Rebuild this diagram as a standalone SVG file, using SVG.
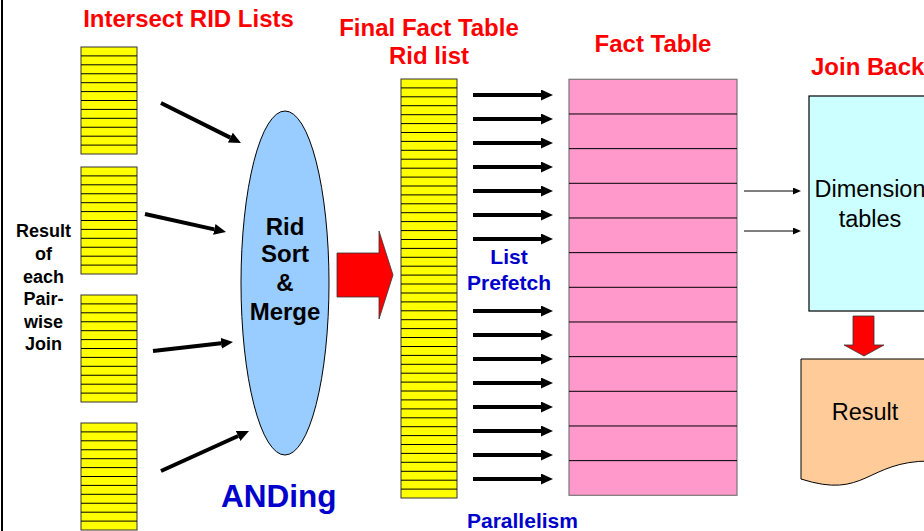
<svg xmlns="http://www.w3.org/2000/svg" xmlns:xlink="http://www.w3.org/1999/xlink" width="924" height="531" viewBox="0 0 924 531">
<style>
text{font-family:"Liberation Sans",Arial,sans-serif}
.title{font-size:24px;font-weight:bold;fill:#FF0000}
.blue{font-weight:bold;fill:#0000CC}
.lbl{font-size:18px;font-weight:bold;fill:#000}
.merge{font-size:24px;font-weight:bold;fill:#000}
.norm{font-size:23.5px;fill:#000}
.yel{fill:#FFFF00;stroke:#333;stroke-width:1}
.rowl{stroke:#000;stroke-width:1;fill:none}
.thick{stroke:#000;stroke-width:4;fill:none}
.thin{stroke:#000;stroke-width:1;fill:none}
</style>
<defs>
<marker id="ah" markerWidth="12" markerHeight="11" refX="0" refY="5.5" orient="auto" markerUnits="userSpaceOnUse"><path d="M0,0 L12,5.5 L0,11 Z" fill="#000"/></marker>
<marker id="ahs" markerWidth="8" markerHeight="7" refX="0" refY="3.5" orient="auto" markerUnits="userSpaceOnUse"><path d="M0,0 L8,3.5 L0,7 Z" fill="#000"/></marker>
<g id="stack12">
<rect class="yel" x="0" y="0" width="56" height="107"/>
<path class="rowl" d="M0,8.9h56M0,17.8h56M0,26.75h56M0,35.7h56M0,44.6h56M0,53.5h56M0,62.4h56M0,71.3h56M0,80.25h56M0,89.2h56M0,98.1h56"/>
</g>
</defs>

<rect x="1" y="0" width="2" height="531" fill="#000"/>

<text class="title" x="188.5" y="27" text-anchor="middle">Intersect RID Lists</text>
<text class="title" x="429" y="36" text-anchor="middle">Final Fact Table</text>
<text class="title" x="429" y="63.5" text-anchor="middle">Rid list</text>
<text class="title" x="653" y="52" text-anchor="middle">Fact Table</text>
<text class="title" x="811" y="75">Join Back</text>

<g id="list1"><use xlink:href="#stack12" x="81" y="47"/></g>
<g id="list2"><use xlink:href="#stack12" x="81" y="167"/></g>
<g id="list3"><use xlink:href="#stack12" x="81" y="295"/></g>
<g id="list4"><use xlink:href="#stack12" x="81" y="423"/></g>

<g id="pairwise-label">
<text class="lbl" x="43.5" y="237" text-anchor="middle">Result</text>
<text class="lbl" x="43.5" y="260" text-anchor="middle">of</text>
<text class="lbl" x="43.5" y="283" text-anchor="middle">each</text>
<text class="lbl" x="43.5" y="305" text-anchor="middle">Pair-</text>
<text class="lbl" x="43.5" y="328" text-anchor="middle">wise</text>
<text class="lbl" x="43.5" y="350" text-anchor="middle">Join</text>
</g>

<g id="merge">
<ellipse cx="285" cy="283" rx="44" ry="172" fill="#99CCFF" stroke="#000" stroke-width="1"/>
<text class="merge" x="285" y="235" text-anchor="middle">Rid</text>
<text class="merge" x="285" y="262" text-anchor="middle">Sort</text>
<text class="merge" x="285" y="291" text-anchor="middle">&amp;</text>
<text class="merge" x="285" y="320" text-anchor="middle">Merge</text>
</g>
<text class="blue" x="221" y="507" font-size="31.5">ANDing</text>

<g id="to-final">
<path d="M337,253 H379 V231 L393,275 L379,319 V297 H337 Z" fill="#FF0000" stroke="#333" stroke-width="0.8"/>
</g>

<g id="final-list">
<rect class="yel" x="401" y="79" width="56" height="419"/>
<path class="rowl" transform="translate(401,79)" d="M0,8.9h56M0,17.8h56M0,26.7h56M0,35.7h56M0,44.6h56M0,53.5h56M0,62.4h56M0,71.3h56M0,80.2h56M0,89.2h56M0,98.1h56M0,107h56M0,115.9h56M0,124.8h56M0,133.7h56M0,142.6h56M0,151.6h56M0,160.5h56M0,169.4h56M0,178.3h56M0,187.2h56M0,196.1h56M0,205h56M0,214h56M0,222.9h56M0,231.8h56M0,240.7h56M0,249.6h56M0,258.5h56M0,267.5h56M0,276.4h56M0,285.3h56M0,294.2h56M0,303.1h56M0,312h56M0,320.9h56M0,329.9h56M0,338.8h56M0,347.7h56M0,356.6h56M0,365.5h56M0,374.4h56M0,383.3h56M0,392.3h56M0,401.2h56M0,410.1h56"/>
</g>

<text class="blue" x="509" y="264" font-size="21" text-anchor="middle">List</text>
<text class="blue" x="509" y="290" font-size="21" text-anchor="middle">Prefetch</text>
<text class="blue" x="467" y="528" font-size="21">Parallelism</text>

<g id="fact-table">
<rect x="569" y="79.3" width="168" height="416" fill="#FF99CC" stroke="#777" stroke-width="1.2"/>
<path class="rowl" transform="translate(569,79.3)" d="M0,34.67h168M0,69.33h168M0,104h168M0,138.67h168M0,173.33h168M0,208h168M0,242.67h168M0,277.33h168M0,312h168M0,346.67h168M0,381.33h168"/>
</g>

<g id="dimension">
<rect x="809" y="96" width="130" height="215" fill="#CCFFFF" stroke="#000" stroke-width="1.2"/>
<text class="norm" x="870" y="197" text-anchor="middle">Dimension</text>
<text class="norm" x="870" y="227" text-anchor="middle">tables</text>
</g>

<g id="to-result">
<path d="M853,316 H874 V345 H884 L864,356 L844,345 H853 Z" fill="#FF0000" stroke="#333" stroke-width="0.8"/>
</g>

<g id="result">
<path d="M801,359 H930 V461 C866,461 866,500 801,479 Z" fill="#FFCC99" stroke="#000" stroke-width="1"/>
<text class="norm" x="865" y="420" text-anchor="middle">Result</text>
</g>

<g id="connectors">
<line class="thick" x1="161" y1="103" x2="230.3" y2="137.6" marker-end="url(#ah)"/>
<line class="thick" x1="145" y1="214" x2="214.3" y2="229.4" marker-end="url(#ah)"/>
<line class="thick" x1="153" y1="351" x2="221.1" y2="343.3" marker-end="url(#ah)"/>
<line class="thick" x1="161" y1="471" x2="238.1" y2="436" marker-end="url(#ah)"/>
<line class="thick" x1="473" y1="95" x2="541" y2="95" marker-end="url(#ah)"/>
<line class="thick" x1="473" y1="119" x2="541" y2="119" marker-end="url(#ah)"/>
<line class="thick" x1="473" y1="143" x2="541" y2="143" marker-end="url(#ah)"/>
<line class="thick" x1="473" y1="167" x2="541" y2="167" marker-end="url(#ah)"/>
<line class="thick" x1="473" y1="191" x2="541" y2="191" marker-end="url(#ah)"/>
<line class="thick" x1="473" y1="215" x2="541" y2="215" marker-end="url(#ah)"/>
<line class="thick" x1="473" y1="239" x2="541" y2="239" marker-end="url(#ah)"/>
<line class="thick" x1="473" y1="311" x2="541" y2="311" marker-end="url(#ah)"/>
<line class="thick" x1="473" y1="335" x2="541" y2="335" marker-end="url(#ah)"/>
<line class="thick" x1="473" y1="359" x2="541" y2="359" marker-end="url(#ah)"/>
<line class="thick" x1="473" y1="383" x2="541" y2="383" marker-end="url(#ah)"/>
<line class="thick" x1="473" y1="407" x2="541" y2="407" marker-end="url(#ah)"/>
<line class="thick" x1="473" y1="431" x2="541" y2="431" marker-end="url(#ah)"/>
<line class="thick" x1="473" y1="455" x2="541" y2="455" marker-end="url(#ah)"/>
<line class="thick" x1="473" y1="479" x2="541" y2="479" marker-end="url(#ah)"/>
<line class="thin" x1="744" y1="191" x2="793" y2="191" marker-end="url(#ahs)"/>
<line class="thin" x1="744" y1="231" x2="793" y2="231" marker-end="url(#ahs)"/>
</g>
</svg>
